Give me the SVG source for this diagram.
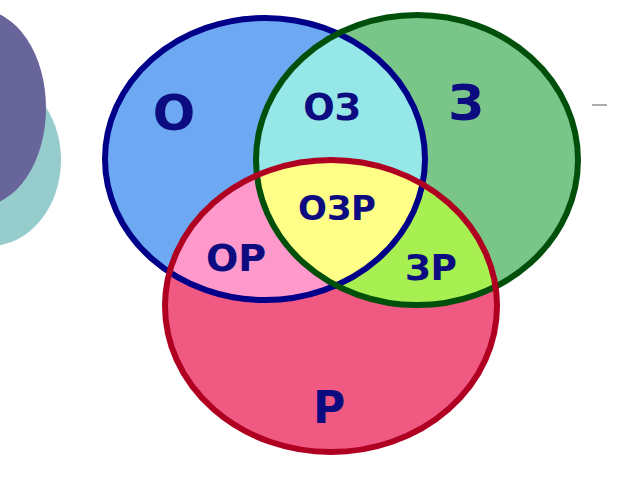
<svg xmlns="http://www.w3.org/2000/svg" width="640" height="480" viewBox="0 0 640 480">
<style>
.lbl{font-family:"DejaVu Sans","Liberation Sans",sans-serif;font-weight:bold;fill:#0c0c80;text-anchor:middle}
.ring{fill:none;stroke-width:6}
</style>
<defs>
<clipPath id="cO"><ellipse cx="265" cy="159" rx="160" ry="141"/></clipPath>
<clipPath id="cZ"><ellipse cx="417" cy="160" rx="161" ry="145"/></clipPath>
<clipPath id="cP"><ellipse cx="331" cy="306" rx="166" ry="146"/></clipPath>
</defs>
<rect width="640" height="480" fill="#ffffff"/>
<g id="decor">
<ellipse cx="-10" cy="160" rx="71" ry="86" fill="#96cccc"/>
<ellipse cx="-20" cy="108" rx="66" ry="98" fill="#68659a"/>
<line x1="592" y1="105" x2="607" y2="105" stroke="#909090" stroke-width="1.5"/>
</g>
<g id="setO">
<ellipse cx="265" cy="159" rx="160" ry="141" fill="#6da8f2"/>
</g>
<g id="setZ">
<ellipse cx="417" cy="160" rx="161" ry="145" fill="#7ac588"/>
</g>
<g id="setP">
<ellipse cx="331" cy="306" rx="166" ry="146" fill="#f05a82"/>
</g>
<g id="setOZ" clip-path="url(#cO)">
<ellipse cx="417" cy="160" rx="161" ry="145" fill="#96e8e8"/>
</g>
<g id="setOP" clip-path="url(#cO)">
<ellipse cx="331" cy="306" rx="166" ry="146" fill="#ff99cc"/>
</g>
<g id="setZP" clip-path="url(#cZ)">
<ellipse cx="331" cy="306" rx="166" ry="146" fill="#a8f052"/>
</g>
<g id="setOZP" clip-path="url(#cO)">
<g clip-path="url(#cZ)">
<ellipse cx="331" cy="306" rx="166" ry="146" fill="#ffff88"/>
</g>
</g>
<g id="outlines">
<ellipse class="ring" cx="265" cy="159" rx="160" ry="141" stroke="#000088"/>
<ellipse class="ring" cx="417" cy="160" rx="161" ry="145" stroke="#004f0a"/>
<ellipse class="ring" cx="331" cy="306" rx="166" ry="146" stroke="#b00022"/>
</g>
<g id="labels">
<text class="lbl" x="174" y="130" font-size="50">О</text>
<text class="lbl" x="466" y="120" font-size="50">З</text>
<text class="lbl" x="332" y="120" font-size="37">ОЗ</text>
<text class="lbl" x="337" y="220" font-size="34">ОЗР</text>
<text class="lbl" x="431" y="280" font-size="36">ЗР</text>
<text class="lbl" x="236" y="271" font-size="38">ОР</text>
<text class="lbl" x="329" y="423" font-size="44">Р</text>
</g>
</svg>
